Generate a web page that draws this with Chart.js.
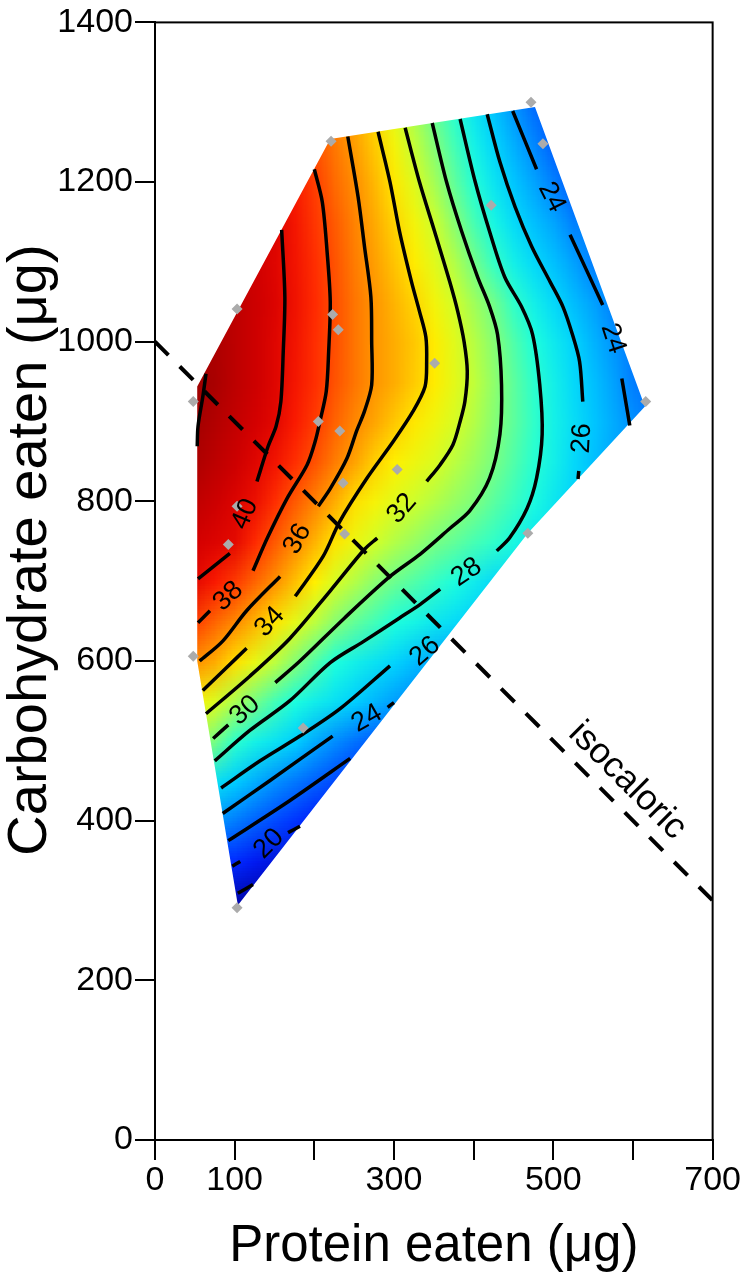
<!DOCTYPE html>
<html>
<head>
<meta charset="utf-8">
<title>Carbohydrate eaten vs Protein eaten</title>
<script src="https://cdn.jsdelivr.net/npm/chart.js@4.4.1/dist/chart.umd.min.js"></script>
<style>
html,body{margin:0;padding:0;background:#ffffff;}
#chart{display:block;}
</style>
</head>
<body>
<canvas id="chart" width="741" height="1280"></canvas>
<script>
// ---------- axis ticks ----------
const xTickLabels = [0, 100, 300, 500, 700];
const xStep = 100;
const yStep = 200;

// ---------- response surface ----------
const gridX = [50,75,100,125,150,175,200,225,250,275,300,325,350,375,400,425,450,475,500,525,550,575,600,625];
const gridY = [1300,1250,1200,1150,1100,1050,1000,950,900,850,800,750,700,650,600,550,500,450,400,350,300];
const gridValues = [
 [null,null,null,null,null,null,37.4,36.5,35.3,33.8,32.3,30.9,29.4,28.1,26.7,25.4,23.9,22.5,21.8,null,null,null,null,null],
 [null,null,null,null,null,null,37.7,36.7,35.6,34.4,33.1,31.6,30.2,28.8,27.4,26.1,24.8,23.5,22.1,null,null,null,null,null],
 [null,null,null,null,null,39.2,38.2,37.1,36.1,34.9,33.7,32.4,31.0,29.5,28.1,26.8,25.6,24.5,23.3,22.0,null,null,null,null],
 [null,null,null,null,40.3,39.4,38.4,37.5,36.4,35.3,34.2,33.1,31.9,30.4,28.9,27.6,26.4,25.4,24.5,23.3,null,null,null,null],
 [null,null,null,40.7,40.2,39.5,38.6,37.7,36.6,35.6,34.6,33.6,32.5,31.3,29.9,28.5,27.3,26.3,25.4,24.4,23.2,null,null,null],
 [null,null,41.3,40.8,40.3,39.6,38.7,37.8,36.8,35.9,35.0,34.2,33.1,32.0,30.9,29.8,28.4,27.3,26.3,25.3,24.4,23.2,null,null],
 [null,41.8,41.3,40.8,40.2,39.5,38.6,37.8,36.8,35.9,35.2,34.5,33.6,32.5,31.4,30.3,29.1,28.0,27.0,26.1,25.0,24.0,23.0,null],
 [42.3,41.9,41.3,40.8,40.2,39.4,38.6,37.7,36.8,35.9,35.2,34.4,33.6,32.6,31.6,30.5,29.4,28.3,27.3,26.3,25.4,24.4,23.2,22.6],
 [42.1,41.6,41.1,40.6,40.1,39.2,38.3,37.3,36.3,35.4,34.5,33.7,33.0,32.2,31.3,30.3,29.4,28.4,27.4,26.5,25.6,24.7,23.8,23.0],
 [41.8,41.3,40.8,40.2,39.5,38.6,37.7,36.6,35.5,34.3,33.5,32.9,32.3,31.5,30.8,30.0,29.1,28.2,27.3,26.3,25.4,24.6,null,null],
 [41.2,40.8,40.3,39.7,38.6,37.5,36.4,35.2,33.9,33.2,32.5,31.9,31.3,30.7,30.1,29.3,28.6,27.8,26.9,26.1,null,null,null,null],
 [40.6,40.3,40.0,38.7,37.5,36.3,35.0,33.8,32.9,32.0,31.3,30.7,30.0,29.5,28.9,28.4,27.7,26.8,null,null,null,null,null,null],
 [40.0,39.2,38.3,37.2,36.0,34.7,33.5,32.2,31.3,30.4,29.7,29.1,28.5,27.9,27.1,26.3,null,null,null,null,null,null,null,null],
 [38.2,37.2,36.2,35.0,33.8,32.6,31.5,30.4,29.5,28.8,28.0,27.5,26.9,26.4,25.9,null,null,null,null,null,null,null,null,null],
 [36.0,35.2,33.9,32.7,31.5,30.3,29.1,28.0,27.3,26.7,26.1,25.3,24.6,24.0,null,null,null,null,null,null,null,null,null,null],
 [33.3,32.3,31.1,29.9,28.8,27.9,27.2,26.6,25.9,25.1,24.3,23.6,null,null,null,null,null,null,null,null,null,null,null,null],
 [31.0,29.9,28.3,27.4,26.7,25.9,24.7,23.7,22.8,22.0,null,null,null,null,null,null,null,null,null,null,null,null,null,null],
 [null,26.6,25.8,24.8,23.8,23.0,22.2,21.4,20.6,null,null,null,null,null,null,null,null,null,null,null,null,null,null,null],
 [null,24.0,23.1,22.2,21.4,20.7,19.9,null,null,null,null,null,null,null,null,null,null,null,null,null,null,null,null,null],
 [null,null,20.4,19.6,19.0,null,null,null,null,null,null,null,null,null,null,null,null,null,null,null,null,null,null,null],
 [null,null,17.8,17.5,null,null,null,null,null,null,null,null,null,null,null,null,null,null,null,null,null,null,null,null]
];

// colour scale stops (value -> colour), as seen on the picture
const colorStopValues = [17, 20, 22, 24, 26, 28, 30, 32, 33.5, 35, 37, 39, 40.5, 42.5];
const colorStopColors = [
 [0,0,150],[0,30,255],[0,90,255],[0,150,255],[0,210,255],[30,255,220],[120,255,130],
 [210,255,40],[255,240,0],[255,180,0],[255,110,0],[255,30,0],[215,0,0],[150,0,0]
];

// ---------- outline of the fitted region ----------
const hullX = [104, 468, 615, 477, 220, 53, 53];
const hullY = [294, 760, 919, 1294, 1254, 944, 600];

// ---------- observed points ----------
const pointX = [221,472,487,422,103,223,230,351,48,205,232,304,236,103,238,92,48,186,468,616,103];
const pointY = [1251,1300,1248,1171,1041,1034,1015,973,925,900,888,840,823,794,759,746,606,516,760,925,291];

// ---------- contour lines (segments of [protein, carbohydrate]) ----------
const contour42 = [[[64,960],[60,931],[54,894],[53,869]]];
const contour40 = [[[159,1140],[163,1056],[161,988],[158,925],[152,894],[142,869],[128,825]],[[94,735],[54,703]]];
const contour38 = [[[200,1216],[210,1175],[216,1113],[220,1050],[218,988],[215,938],[207,900],[201,875],[191,846],[166,804],[141,754],[123,713]],[[69,663],[54,648]]];
const contour36 = [[[242,1257],[255,1181],[263,1119],[271,1056],[272,1000],[272,946],[263,913],[253,888],[241,854],[220,816],[205,794]],[[157,706],[115,663],[85,625],[56,600]]];
const contour34 = [[[280,1263],[295,1200],[307,1138],[322,1075],[332,1038],[340,1006],[341,975],[339,944],[324,913],[299,875],[266,829],[232,775],[211,731],[176,681]],[[115,616],[88,590],[60,563]]];
const contour32 = [[[314,1268],[332,1200],[351,1138],[370,1075],[380,1038],[388,1000],[392,963],[389,925],[383,900],[374,871],[358,846],[341,825]],[[279,754],[263,740],[220,688],[169,628],[119,581],[64,534]]];
const contour30 = [[[348,1274],[366,1200],[385,1138],[405,1081],[420,1044],[430,1009],[435,946],[433,884],[420,829],[395,788],[370,766],[333,734],[295,706],[238,654],[182,600],[151,573]],[[92,520],[73,503]]];
const contour28 = [[[383,1279],[402,1200],[420,1138],[439,1081],[460,1044],[474,1009],[483,946],[486,884],[479,829],[467,791],[445,754],[429,738]],[[358,690],[333,671],[307,654],[261,624],[220,598],[169,550],[119,513],[75,475]]];
const contour26 = [[[417,1285],[433,1225],[452,1169],[473,1119],[496,1075],[512,1044],[524,1009],[533,975],[537,925]],[[532,838],[531,828]],[[83,441],[132,475],[182,506],[232,540],[295,594]]];
const contour24 = [[[449,1289],[479,1216]],[[521,1134],[562,1046]],[[586,954],[596,895]],[[85,409],[144,450],[223,506]],[[292,542],[300,548]]];
const contour22 = [[[92,375],[169,425],[245,478]]];
const contour20 = [[[97,343],[107,349]],[[167,385],[182,393]]];
const contour18 = [[[104,309],[123,320]]];

// ---------- contour labels ----------
const labelText  = ['40','38','36','34','32','30','28','26','24','20','26','24','24'];
const labelX     = [113, 92, 179, 144, 310, 113, 391, 339, 266, 143, 536, 498, 575];
const labelY     = [784, 681, 753, 649, 791, 538, 711, 612, 528, 371, 879, 1181, 1004];
const labelAngle = [-67, -43, -61, -47, -49, -42, -34, -41, -30, -45, -87, 63, 72];

// ---------- isocaloric line ----------
const isoX = [0, 700];
const isoY = [1000, 300];
const isoLabel = 'isocaloric';
const isoLabelX = 593;
const isoLabelY = 450;

// =====================================================
const FONT = '"Liberation Sans", Arial, Helvetica, sans-serif';

function scaleColor(v) {
  const n = colorStopValues.length;
  if (v <= colorStopValues[0]) return colorStopColors[0];
  if (v >= colorStopValues[n - 1]) return colorStopColors[n - 1];
  let k = 0;
  while (v > colorStopValues[k + 1]) k++;
  const f = (v - colorStopValues[k]) / (colorStopValues[k + 1] - colorStopValues[k]);
  const a = colorStopColors[k], b = colorStopColors[k + 1];
  return [0, 1, 2].map(j => Math.round(a[j] + (b[j] - a[j]) * f));
}

const heatmapPlugin = {
  id: 'heatmap',
  beforeDatasetsDraw(chart) {
    const {ctx, scales: {x, y}} = chart;
    const nc = gridX.length, nr = gridY.length;
    const off = document.createElement('canvas');
    off.width = nc; off.height = nr;
    const octx = off.getContext('2d');
    const img = octx.createImageData(nc, nr);
    for (let r = 0; r < nr; r++) {
      const row = gridValues[r];
      for (let c = 0; c < nc; c++) {
        let v = row[c];
        if (v === null) { // edge extension for cells outside the fitted region (clipped below)
          let bd = Infinity;
          for (let k = 0; k < nc; k++) {
            if (row[k] !== null && Math.abs(k - c) < bd) { bd = Math.abs(k - c); v = row[k]; }
          }
        }
        const i = (r * nc + c) * 4;
        if (v === null) { img.data[i + 3] = 0; continue; }
        const [R, G, B] = scaleColor(v);
        img.data[i] = R; img.data[i + 1] = G; img.data[i + 2] = B; img.data[i + 3] = 255;
      }
    }
    octx.putImageData(img, 0, 0);
    const hx = (gridX[1] - gridX[0]) / 2, hy = (gridY[0] - gridY[1]) / 2;
    const left = x.getPixelForValue(gridX[0] - hx);
    const right = x.getPixelForValue(gridX[nc - 1] + hx);
    const top = y.getPixelForValue(gridY[0] + hy);
    const bottom = y.getPixelForValue(gridY[nr - 1] - hy);
    ctx.save();
    ctx.beginPath();
    hullX.forEach((vx, i) => {
      const px = x.getPixelForValue(vx), py = y.getPixelForValue(hullY[i]);
      if (i === 0) ctx.moveTo(px, py); else ctx.lineTo(px, py);
    });
    ctx.closePath();
    ctx.clip();
    ctx.imageSmoothingEnabled = true;
    ctx.drawImage(off, left, top, right - left, bottom - top);
    ctx.restore();
  }
};

const textPlugin = {
  id: 'texts',
  afterDatasetsDraw(chart) {
    const {ctx, scales: {x, y}} = chart;
    ctx.save();
    ctx.fillStyle = '#000';
    ctx.textAlign = 'center';
    ctx.textBaseline = 'middle';
    ctx.font = '27px ' + FONT;
    labelText.forEach((t, i) => {
      ctx.save();
      ctx.translate(x.getPixelForValue(labelX[i]), y.getPixelForValue(labelY[i]));
      ctx.rotate(labelAngle[i] * Math.PI / 180);
      ctx.fillText(t, 0, 0);
      ctx.restore();
    });
    ctx.font = '36px ' + FONT;
    ctx.translate(x.getPixelForValue(isoLabelX), y.getPixelForValue(isoLabelY));
    ctx.rotate(Math.PI / 4);
    ctx.fillText(isoLabel, 0, 0);
    ctx.restore();
  },
  afterDraw(chart) {
    const {ctx, chartArea: a} = chart;
    ctx.save();
    ctx.strokeStyle = '#000';
    ctx.lineWidth = 2;
    ctx.strokeRect(a.left, a.top, a.right - a.left, a.bottom - a.top);
    // y-axis title
    ctx.fillStyle = '#000';
    ctx.font = '56px ' + FONT;
    ctx.textAlign = 'center';
    ctx.textBaseline = 'middle';
    ctx.translate(31, 550);
    ctx.rotate(-Math.PI / 2);
    ctx.fillText('Carbohydrate eaten (\u03bcg)', 0, 0);
    ctx.restore();
  }
};

function toPoints(seg) { return seg.map(p => ({x: p[0], y: p[1]})); }

const datasets = [];
datasets.push({
  label: 'isocaloric',
  data: isoX.map((v, i) => ({x: v, y: isoY[i]})),
  showLine: true, borderColor: '#000', borderWidth: 4, borderDash: [19, 16],
  pointRadius: 0, fill: false, order: 0
});
datasets.push({
  label: 'points',
  data: pointX.map((v, i) => ({x: v, y: pointY[i]})),
  pointStyle: 'rectRot', pointRadius: 5.5, pointBackgroundColor: '#ababab',
  pointBorderWidth: 0, borderWidth: 0, showLine: false, order: 1
});
const contours = {42: contour42, 40: contour40, 38: contour38, 36: contour36, 34: contour34, 32: contour32,
  30: contour30, 28: contour28, 26: contour26, 24: contour24, 22: contour22, 20: contour20, 18: contour18};
Object.keys(contours).forEach(level => {
  contours[level].forEach(seg => {
    datasets.push({
      label: 'contour ' + level,
      data: toPoints(seg),
      showLine: true, borderColor: '#000', borderWidth: 3.5, tension: 0.3,
      pointRadius: 0, fill: false, order: 2
    });
  });
});

new Chart(document.getElementById('chart'), {
  type: 'scatter',
  data: {datasets},
  options: {
    responsive: false,
    animation: false,
    layout: {padding: {top: 20, right: 28, bottom: 0, left: 0}},
    plugins: {legend: {display: false}, tooltip: {enabled: false}},
    scales: {
      x: {
        type: 'linear', min: 0, max: 700,
        afterFit(s) { s.height = 140; },
        ticks: {
          stepSize: xStep, autoSkip: false, maxRotation: 0, padding: 0,
          color: '#000', font: {family: FONT, size: 34},
          callback: v => xTickLabels.includes(v) ? String(v) : ''
        },
        grid: {drawOnChartArea: false, drawTicks: true, tickLength: 20, color: '#000', lineWidth: 2},
        border: {display: true, color: '#000', width: 2},
        title: {display: true, text: 'Protein eaten (\u03bcg)', color: '#000',
                font: {family: FONT, size: 51}, padding: {top: 0, bottom: 2}}
      },
      y: {
        type: 'linear', min: 0, max: 1400,
        afterFit(s) { s.width = 155; },
        ticks: {stepSize: yStep, autoSkip: false, padding: 2, color: '#000',
                font: {family: FONT, size: 34}, callback: v => String(v)},
        grid: {drawOnChartArea: false, drawTicks: true, tickLength: 20, color: '#000', lineWidth: 2},
        border: {display: true, color: '#000', width: 2}
      }
    }
  },
  plugins: [heatmapPlugin, textPlugin]
});
</script>
</body>
</html>
